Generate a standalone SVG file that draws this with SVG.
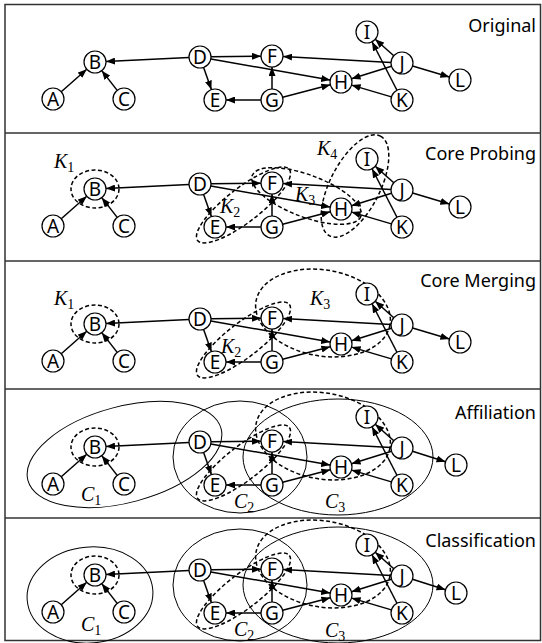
<svg xmlns="http://www.w3.org/2000/svg" width="542" height="643" viewBox="0 0 542 643">
<style>
.frame{fill:none;stroke:#333;stroke-width:1.5}
.title{font-family:"Noto Sans",sans-serif;font-size:18px;text-anchor:end;fill:#000}
.node circle{fill:#fff;stroke:#000;stroke-width:1.2}
.node text{font-family:"Noto Sans",sans-serif;font-size:19px;text-anchor:middle;fill:#000}
.edges line{stroke:#000;stroke-width:1.5;fill:none;marker-end:url(#arr)}
.core{fill:none;stroke:#000;stroke-width:1.5;stroke-dasharray:4 2.5}
.comm{fill:none;stroke:#000;stroke-width:1}
.math{font-family:"Liberation Serif",serif;font-style:italic;font-size:20px;fill:#000}
.sub{font-style:normal;font-size:14px}
</style>
<defs>
<marker id="arr" markerUnits="userSpaceOnUse" markerWidth="9" markerHeight="7" refX="9" refY="3.5" orient="auto"><path d="M0,0L9,3.5L0,7z" fill="#000"/></marker>
</defs>
<rect class="frame" x="5" y="4.5" width="535.5" height="636"/>
<line class="frame" x1="5" y1="133" x2="540.5" y2="133"/>
<line class="frame" x1="5" y1="261" x2="540.5" y2="261"/>
<line class="frame" x1="5" y1="389" x2="540.5" y2="389"/>
<line class="frame" x1="5" y1="518" x2="540.5" y2="518"/>
<text class="title" x="536" y="32">Original</text>
<text class="title" x="536" y="160">Core Probing</text>
<text class="title" x="536" y="287">Core Merging</text>
<text class="title" x="536" y="419">Affiliation</text>
<text class="title" x="536" y="547">Classification</text>

<!-- Panel 1 -->
<g id="panel1">
<g id="p1-edges" class="edges">
<line x1="61.25" y1="91.73" x2="86.75" y2="69.27"/><line x1="117.21" y1="90.34" x2="101.79" y2="70.66"/><line x1="189.01" y1="57.52" x2="105.99" y2="61.48"/><line x1="211" y1="56.85" x2="261" y2="56.15"/><line x1="203.62" y1="67.39" x2="211.38" y2="89.61"/><line x1="210.83" y1="58.92" x2="330.17" y2="80.08"/><line x1="261" y1="100" x2="226" y2="100"/><line x1="272" y1="89" x2="272" y2="67"/><line x1="282.64" y1="97.22" x2="330.36" y2="84.78"/><line x1="391.02" y1="62.41" x2="282.98" y2="56.59"/><line x1="391.5" y1="66.27" x2="351.5" y2="78.73"/><line x1="393.77" y1="55.71" x2="375.23" y2="39.29"/><line x1="412.56" y1="66.09" x2="449.44" y2="76.91"/><line x1="396.97" y1="90.22" x2="372.03" y2="41.78"/><line x1="391.45" y1="96.89" x2="351.55" y2="85.11"/>
</g>
<g id="p1-A" class="node"><circle cx="53" cy="99" r="11"/><text x="53" y="105.8">A</text></g>
<g id="p1-B" class="node"><circle cx="95" cy="62" r="11"/><text x="95" y="68.8">B</text></g>
<g id="p1-C" class="node"><circle cx="124" cy="99" r="11"/><text x="124" y="105.8">C</text></g>
<g id="p1-D" class="node"><circle cx="200" cy="57" r="11"/><text x="200" y="63.8">D</text></g>
<g id="p1-E" class="node"><circle cx="215" cy="100" r="11"/><text x="215" y="106.8">E</text></g>
<g id="p1-F" class="node"><circle cx="272" cy="56" r="11"/><text x="272" y="62.8">F</text></g>
<g id="p1-G" class="node"><circle cx="272" cy="100" r="11"/><text x="272" y="106.8">G</text></g>
<g id="p1-H" class="node"><circle cx="341" cy="82" r="11"/><text x="341" y="88.8">H</text></g>
<g id="p1-I" class="node"><circle cx="367" cy="32" r="11"/><text x="367" y="38.8">I</text></g>
<g id="p1-J" class="node"><circle cx="402" cy="63" r="11"/><text x="402" y="69.8">J</text></g>
<g id="p1-K" class="node"><circle cx="402" cy="100" r="11"/><text x="402" y="106.8">K</text></g>
<g id="p1-L" class="node"><circle cx="460" cy="80" r="11"/><text x="460" y="86.8">L</text></g>
</g>

<!-- Panel 2 -->
<g id="panel2" transform="translate(0,127)">
<g id="p2-cores">
<ellipse class="core" cx="95" cy="62" rx="24" ry="19"/>
<ellipse class="core" cx="243.5" cy="78" rx="58" ry="17" transform="rotate(-37.7 243.5 78)"/>
<ellipse class="core" cx="306.5" cy="69" rx="58" ry="21" transform="rotate(20.6 306.5 69)"/>
<ellipse class="core" cx="355" cy="59" rx="56" ry="25" transform="rotate(-63 355 59)"/>
<text class="math" x="54" y="41">K<tspan class="sub" dy="4">1</tspan></text>
<text class="math" x="220" y="86">K<tspan class="sub" dy="4">2</tspan></text>
<text class="math" x="295" y="74">K<tspan class="sub" dy="4">3</tspan></text>
<text class="math" x="317" y="28">K<tspan class="sub" dy="4">4</tspan></text>
</g>
<g id="p2-edges" class="edges">
<line x1="61.25" y1="91.73" x2="86.75" y2="69.27"/><line x1="117.21" y1="90.34" x2="101.79" y2="70.66"/><line x1="189.01" y1="57.52" x2="105.99" y2="61.48"/><line x1="211" y1="56.85" x2="261" y2="56.15"/><line x1="203.62" y1="67.39" x2="211.38" y2="89.61"/><line x1="210.83" y1="58.92" x2="330.17" y2="80.08"/><line x1="261" y1="100" x2="226" y2="100"/><line x1="272" y1="89" x2="272" y2="67"/><line x1="282.64" y1="97.22" x2="330.36" y2="84.78"/><line x1="391.02" y1="62.41" x2="282.98" y2="56.59"/><line x1="391.5" y1="66.27" x2="351.5" y2="78.73"/><line x1="393.77" y1="55.71" x2="375.23" y2="39.29"/><line x1="412.56" y1="66.09" x2="449.44" y2="76.91"/><line x1="396.97" y1="90.22" x2="372.03" y2="41.78"/><line x1="391.45" y1="96.89" x2="351.55" y2="85.11"/>
</g>
<g id="p2-A" class="node"><circle cx="53" cy="99" r="11"/><text x="53" y="105.8">A</text></g>
<g id="p2-B" class="node"><circle cx="95" cy="62" r="11"/><text x="95" y="68.8">B</text></g>
<g id="p2-C" class="node"><circle cx="124" cy="99" r="11"/><text x="124" y="105.8">C</text></g>
<g id="p2-D" class="node"><circle cx="200" cy="57" r="11"/><text x="200" y="63.8">D</text></g>
<g id="p2-E" class="node"><circle cx="215" cy="100" r="11"/><text x="215" y="106.8">E</text></g>
<g id="p2-F" class="node"><circle cx="272" cy="56" r="11"/><text x="272" y="62.8">F</text></g>
<g id="p2-G" class="node"><circle cx="272" cy="100" r="11"/><text x="272" y="106.8">G</text></g>
<g id="p2-H" class="node"><circle cx="341" cy="82" r="11"/><text x="341" y="88.8">H</text></g>
<g id="p2-I" class="node"><circle cx="367" cy="32" r="11"/><text x="367" y="38.8">I</text></g>
<g id="p2-J" class="node"><circle cx="402" cy="63" r="11"/><text x="402" y="69.8">J</text></g>
<g id="p2-K" class="node"><circle cx="402" cy="100" r="11"/><text x="402" y="106.8">K</text></g>
<g id="p2-L" class="node"><circle cx="460" cy="80" r="11"/><text x="460" y="86.8">L</text></g>
</g>

<!-- Panel 3 -->
<g id="panel3" transform="translate(0,262)">
<g id="p3-cores">
<ellipse class="core" cx="95" cy="62" rx="24" ry="19"/>
<ellipse class="core" cx="243.5" cy="78" rx="58" ry="17" transform="rotate(-37.7 243.5 78)"/>
<ellipse class="core" cx="323" cy="51" rx="68" ry="43" transform="rotate(10 323 51)"/>
<text class="math" x="54" y="43">K<tspan class="sub" dy="4">1</tspan></text>
<text class="math" x="221" y="91">K<tspan class="sub" dy="4">2</tspan></text>
<text class="math" x="310" y="43">K<tspan class="sub" dy="4">3</tspan></text>
</g>
<g id="p3-edges" class="edges">
<line x1="61.25" y1="91.73" x2="86.75" y2="69.27"/><line x1="117.21" y1="90.34" x2="101.79" y2="70.66"/><line x1="189.01" y1="57.52" x2="105.99" y2="61.48"/><line x1="211" y1="56.85" x2="261" y2="56.15"/><line x1="203.62" y1="67.39" x2="211.38" y2="89.61"/><line x1="210.83" y1="58.92" x2="330.17" y2="80.08"/><line x1="261" y1="100" x2="226" y2="100"/><line x1="272" y1="89" x2="272" y2="67"/><line x1="282.64" y1="97.22" x2="330.36" y2="84.78"/><line x1="391.02" y1="62.41" x2="282.98" y2="56.59"/><line x1="391.5" y1="66.27" x2="351.5" y2="78.73"/><line x1="393.77" y1="55.71" x2="375.23" y2="39.29"/><line x1="412.56" y1="66.09" x2="449.44" y2="76.91"/><line x1="396.97" y1="90.22" x2="372.03" y2="41.78"/><line x1="391.45" y1="96.89" x2="351.55" y2="85.11"/>
</g>
<g id="p3-A" class="node"><circle cx="53" cy="99" r="11"/><text x="53" y="105.8">A</text></g>
<g id="p3-B" class="node"><circle cx="95" cy="62" r="11"/><text x="95" y="68.8">B</text></g>
<g id="p3-C" class="node"><circle cx="124" cy="99" r="11"/><text x="124" y="105.8">C</text></g>
<g id="p3-D" class="node"><circle cx="200" cy="57" r="11"/><text x="200" y="63.8">D</text></g>
<g id="p3-E" class="node"><circle cx="215" cy="100" r="11"/><text x="215" y="106.8">E</text></g>
<g id="p3-F" class="node"><circle cx="272" cy="56" r="11"/><text x="272" y="62.8">F</text></g>
<g id="p3-G" class="node"><circle cx="272" cy="100" r="11"/><text x="272" y="106.8">G</text></g>
<g id="p3-H" class="node"><circle cx="341" cy="82" r="11"/><text x="341" y="88.8">H</text></g>
<g id="p3-I" class="node"><circle cx="367" cy="32" r="11"/><text x="367" y="38.8">I</text></g>
<g id="p3-J" class="node"><circle cx="402" cy="63" r="11"/><text x="402" y="69.8">J</text></g>
<g id="p3-K" class="node"><circle cx="402" cy="100" r="11"/><text x="402" y="106.8">K</text></g>
<g id="p3-L" class="node"><circle cx="460" cy="80" r="11"/><text x="460" y="86.8">L</text></g>
</g>

<!-- Panel 4 -->
<g id="panel4" transform="translate(0,385)">
<g id="p4-communities">
<ellipse class="comm" cx="124.5" cy="69.5" rx="100" ry="48" transform="rotate(-15 124.5 69.5)"/>
<ellipse class="comm" cx="240" cy="72" rx="67" ry="56"/>
<ellipse class="comm" cx="338" cy="72" rx="95" ry="58"/>
<text class="math" x="81" y="116">C<tspan class="sub" dy="4">1</tspan></text>
<text class="math" x="234" y="123">C<tspan class="sub" dy="4">2</tspan></text>
<text class="math" x="325" y="123">C<tspan class="sub" dy="4">3</tspan></text>
</g>
<g id="p4-cores">
<ellipse class="core" cx="95" cy="62" rx="24" ry="19"/>
<ellipse class="core" cx="243.5" cy="78" rx="58" ry="17" transform="rotate(-37.7 243.5 78)"/>
<ellipse class="core" cx="323" cy="51" rx="68" ry="43" transform="rotate(10 323 51)"/>
</g>
<g id="p4-edges" class="edges">
<line x1="61.25" y1="91.73" x2="86.75" y2="69.27"/><line x1="117.21" y1="90.34" x2="101.79" y2="70.66"/><line x1="189.01" y1="57.52" x2="105.99" y2="61.48"/><line x1="211" y1="56.85" x2="261" y2="56.15"/><line x1="203.62" y1="67.39" x2="211.38" y2="89.61"/><line x1="210.83" y1="58.92" x2="330.17" y2="80.08"/><line x1="261" y1="100" x2="226" y2="100"/><line x1="272" y1="89" x2="272" y2="67"/><line x1="282.64" y1="97.22" x2="330.36" y2="84.78"/><line x1="391.02" y1="62.41" x2="282.98" y2="56.59"/><line x1="391.5" y1="66.27" x2="351.5" y2="78.73"/><line x1="393.77" y1="55.71" x2="375.23" y2="39.29"/><line x1="412.49" y1="66.3" x2="445.51" y2="76.7"/><line x1="396.97" y1="90.22" x2="372.03" y2="41.78"/><line x1="391.45" y1="96.89" x2="351.55" y2="85.11"/>
</g>
<g id="p4-A" class="node"><circle cx="53" cy="99" r="11"/><text x="53" y="105.8">A</text></g>
<g id="p4-B" class="node"><circle cx="95" cy="62" r="11"/><text x="95" y="68.8">B</text></g>
<g id="p4-C" class="node"><circle cx="124" cy="99" r="11"/><text x="124" y="105.8">C</text></g>
<g id="p4-D" class="node"><circle cx="200" cy="57" r="11"/><text x="200" y="63.8">D</text></g>
<g id="p4-E" class="node"><circle cx="215" cy="100" r="11"/><text x="215" y="106.8">E</text></g>
<g id="p4-F" class="node"><circle cx="272" cy="56" r="11"/><text x="272" y="62.8">F</text></g>
<g id="p4-G" class="node"><circle cx="272" cy="100" r="11"/><text x="272" y="106.8">G</text></g>
<g id="p4-H" class="node"><circle cx="341" cy="82" r="11"/><text x="341" y="88.8">H</text></g>
<g id="p4-I" class="node"><circle cx="367" cy="32" r="11"/><text x="367" y="38.8">I</text></g>
<g id="p4-J" class="node"><circle cx="402" cy="63" r="11"/><text x="402" y="69.8">J</text></g>
<g id="p4-K" class="node"><circle cx="402" cy="100" r="11"/><text x="402" y="106.8">K</text></g>
<g id="p4-L" class="node"><circle cx="456" cy="80" r="11"/><text x="456" y="86.8">L</text></g>
</g>

<!-- Panel 5 -->
<g id="panel5" transform="translate(0,513)">
<g id="p5-communities">
<ellipse class="comm" cx="90" cy="82" rx="63" ry="48" transform="rotate(-5 90 82)"/>
<ellipse class="comm" cx="240" cy="72" rx="67" ry="56"/>
<ellipse class="comm" cx="338" cy="72" rx="95" ry="58"/>
<text class="math" x="81" y="118">C<tspan class="sub" dy="4">1</tspan></text>
<text class="math" x="234" y="123">C<tspan class="sub" dy="4">2</tspan></text>
<text class="math" x="325" y="124">C<tspan class="sub" dy="4">3</tspan></text>
</g>
<g id="p5-cores">
<ellipse class="core" cx="95" cy="62" rx="24" ry="19"/>
<ellipse class="core" cx="243.5" cy="78" rx="58" ry="17" transform="rotate(-37.7 243.5 78)"/>
<ellipse class="core" cx="323" cy="51" rx="68" ry="43" transform="rotate(10 323 51)"/>
</g>
<g id="p5-edges" class="edges">
<line x1="61.25" y1="91.73" x2="86.75" y2="69.27"/><line x1="117.21" y1="90.34" x2="101.79" y2="70.66"/><line x1="189.01" y1="57.52" x2="105.99" y2="61.48"/><line x1="211" y1="56.85" x2="261" y2="56.15"/><line x1="203.62" y1="67.39" x2="211.38" y2="89.61"/><line x1="210.83" y1="58.92" x2="330.17" y2="80.08"/><line x1="261" y1="100" x2="226" y2="100"/><line x1="272" y1="89" x2="272" y2="67"/><line x1="282.64" y1="97.22" x2="330.36" y2="84.78"/><line x1="391.02" y1="62.41" x2="282.98" y2="56.59"/><line x1="391.5" y1="66.27" x2="351.5" y2="78.73"/><line x1="393.77" y1="55.71" x2="375.23" y2="39.29"/><line x1="412.49" y1="66.3" x2="445.51" y2="76.7"/><line x1="396.97" y1="90.22" x2="372.03" y2="41.78"/><line x1="391.45" y1="96.89" x2="351.55" y2="85.11"/>
</g>
<g id="p5-A" class="node"><circle cx="53" cy="99" r="11"/><text x="53" y="105.8">A</text></g>
<g id="p5-B" class="node"><circle cx="95" cy="62" r="11"/><text x="95" y="68.8">B</text></g>
<g id="p5-C" class="node"><circle cx="124" cy="99" r="11"/><text x="124" y="105.8">C</text></g>
<g id="p5-D" class="node"><circle cx="200" cy="57" r="11"/><text x="200" y="63.8">D</text></g>
<g id="p5-E" class="node"><circle cx="215" cy="100" r="11"/><text x="215" y="106.8">E</text></g>
<g id="p5-F" class="node"><circle cx="272" cy="56" r="11"/><text x="272" y="62.8">F</text></g>
<g id="p5-G" class="node"><circle cx="272" cy="100" r="11"/><text x="272" y="106.8">G</text></g>
<g id="p5-H" class="node"><circle cx="341" cy="82" r="11"/><text x="341" y="88.8">H</text></g>
<g id="p5-I" class="node"><circle cx="367" cy="32" r="11"/><text x="367" y="38.8">I</text></g>
<g id="p5-J" class="node"><circle cx="402" cy="63" r="11"/><text x="402" y="69.8">J</text></g>
<g id="p5-K" class="node"><circle cx="402" cy="100" r="11"/><text x="402" y="106.8">K</text></g>
<g id="p5-L" class="node"><circle cx="456" cy="80" r="11"/><text x="456" y="86.8">L</text></g>
</g>
</svg>
